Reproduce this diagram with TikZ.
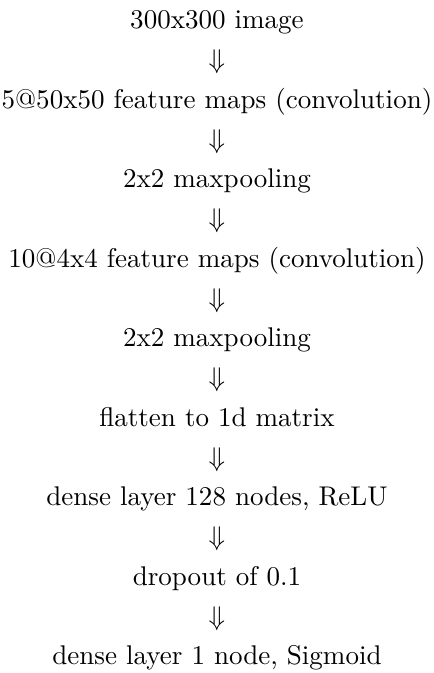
\documentclass[tikz,border=0pt]{standalone}
\begin{document}
\begin{tikzpicture}[x=1pt,y=1pt,
  line/.style={anchor=base,inner sep=0pt,font=\normalsize}]
\useasboundingbox (0,0) rectangle (160.5,-248.9);
\def\sp{14.7}
\def\bx{80.25}
\node[line] (l0)  at (\bx,-10.7-0*\sp) {300x300 image};
\node[line] (a1)  at (\bx,-10.7-1*\sp) {$\Downarrow$};
\node[line] (l1)  at (\bx,-10.7-2*\sp) {5@50x50 feature maps (convolution)};
\node[line] (a2)  at (\bx,-10.7-3*\sp) {$\Downarrow$};
\node[line] (l2)  at (\bx,-10.7-4*\sp) {2x2 maxpooling};
\node[line] (a3)  at (\bx,-10.7-5*\sp) {$\Downarrow$};
\node[line] (l3)  at (\bx,-10.7-6*\sp) {10@4x4 feature maps (convolution)};
\node[line] (a4)  at (\bx,-10.7-7*\sp) {$\Downarrow$};
\node[line] (l4)  at (\bx,-10.7-8*\sp) {2x2 maxpooling};
\node[line] (a5)  at (\bx,-10.7-9*\sp) {$\Downarrow$};
\node[line] (l5)  at (\bx,-10.7-10*\sp) {flatten to 1d matrix};
\node[line] (a6)  at (\bx,-10.7-11*\sp) {$\Downarrow$};
\node[line] (l6)  at (\bx,-10.7-12*\sp) {dense layer 128 nodes, ReLU};
\node[line] (a7)  at (\bx,-10.7-13*\sp) {$\Downarrow$};
\node[line] (l7)  at (\bx,-10.7-14*\sp) {dropout of 0.1};
\node[line] (a8)  at (\bx,-10.7-15*\sp) {$\Downarrow$};
\node[line] (l8)  at (\bx,-10.7-16*\sp) {dense layer 1 node, Sigmoid};
\end{tikzpicture}
\end{document}
